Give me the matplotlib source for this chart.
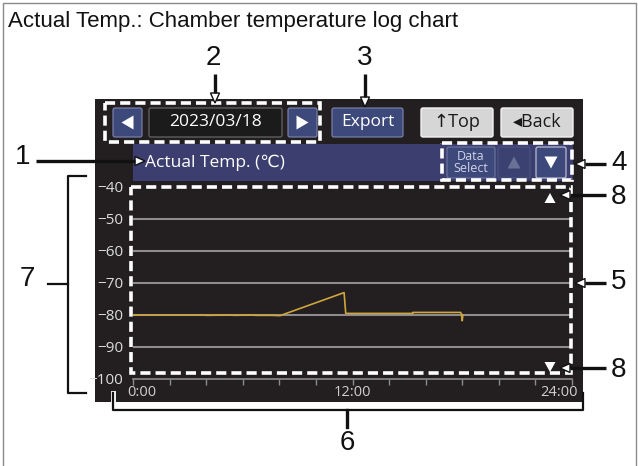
import matplotlib
matplotlib.use("Agg")
import matplotlib.pyplot as plt
from matplotlib.patches import Rectangle, FancyBboxPatch, Polygon

# data
hours = [0.0, 3.9, 4.0, 5.4, 5.5, 6.6, 6.7, 7.6, 8.04, 11.54, 11.63, 15.29, 15.3,
         17.91, 17.95, 18.0, 18.03]
temps = [-80.0, -80.0, -80.1, -80.0, -80.1, -80.0, -80.1, -80.1, -80.2, -73.0,
         -79.5, -79.5, -79.2, -79.2, -79.6, -81.8, -80.0]
y_ticks = [-40, -50, -60, -70, -80, -90, -100]
y_labels = ["\u221240", "\u221250", "\u221260", "\u221270", "\u221280", "\u221290", "\u2212100"]
grid_values = [-50, -60, -70, -80, -90]
x_labels = [(0, "0:00", "left", -6), (12, "12:00", "center", 0), (24, "24:00", "right", 6)]

W, H = 638, 466
PANEL = "#231f20"
BAR = "#3b3e6e"
BTN = "#3d487b"
UI = ["Open Sans", "DejaVu Sans"]
LBL = ["Liberation Sans", "DejaVu Sans"]

fig = plt.figure(figsize=(W / 100, H / 100), dpi=100)
fig.patch.set_facecolor("white")


def px_axes(z):
    a = fig.add_axes([0, 0, 1, 1], zorder=z)
    a.set_xlim(0, W)
    a.set_ylim(H, 0)
    a.axis("off")
    a.patch.set_alpha(0)
    return a


bg = px_axes(0)
fg = px_axes(3)


def box(a, x0, y0, x1, y1, fc, ec="none", lw=0.0, r=0):
    if r:
        p = FancyBboxPatch((x0, y0), x1 - x0, y1 - y0,
                           boxstyle=f"round,pad=0,rounding_size={r}",
                           fc=fc, ec=ec, lw=lw)
    else:
        p = Rectangle((x0, y0), x1 - x0, y1 - y0, fc=fc, ec=ec, lw=lw)
    a.add_patch(p)


def dashed(x0, y0, x1, y1):
    fg.add_patch(Rectangle((x0, y0), x1 - x0, y1 - y0, fill=False, ec="white",
                           lw=2.6, linestyle=(0, (2.8, 1.4)), joinstyle="miter"))


def tri(a, cx, cy, w, h, up, color):
    if up:
        pts = [(cx - w / 2, cy + h / 2), (cx + w / 2, cy + h / 2), (cx, cy - h / 2)]
    else:
        pts = [(cx - w / 2, cy - h / 2), (cx + w / 2, cy - h / 2), (cx, cy + h / 2)]
    a.add_patch(Polygon(pts, closed=True, fc=color, ec="none"))


def tri_lr(a, cx, cy, w, h, left, color):
    if left:
        pts = [(cx + w / 2, cy - h / 2), (cx + w / 2, cy + h / 2), (cx - w / 2, cy)]
    else:
        pts = [(cx - w / 2, cy - h / 2), (cx - w / 2, cy + h / 2), (cx + w / 2, cy)]
    a.add_patch(Polygon(pts, closed=True, fc=color, ec="none"))


def arrow(x0, y0, x1, y1, head=10, half=4.5):
    dx, dy = x1 - x0, y1 - y0
    n = (dx * dx + dy * dy) ** 0.5
    ux, uy = dx / n, dy / n
    bx, by = x1 - ux * head, y1 - uy * head
    fg.plot([x0, bx], [y0, by], color="#111111", lw=2.4, solid_capstyle="butt")
    pts = [(x1, y1), (bx - uy * half, by + ux * half), (bx + uy * half, by - ux * half)]
    fg.add_patch(Polygon(pts, closed=True, fc="white", ec="#111111", lw=1.0))


# outer frame and title
bg.add_patch(Rectangle((3, 3), 633, 480, fill=False, ec="#8a8a8a", lw=1.0))
bg.text(8, 22, "Actual Temp.: Chamber temperature log chart", fontsize=16,
        family=LBL, va="center", ha="left", color="#111111")

# screen panel
box(bg, 95, 99, 583, 402, PANEL)

# top button row
box(bg, 113, 108, 142, 137, BTN, "#8088b0", 0.8, 2)
tri_lr(bg, 127.5, 122.5, 12, 14, True, "white")
box(bg, 149, 108, 282, 137, "#1b1b1b", "#5e5e5e", 1.0, 2)
bg.text(215.5, 122.5, "2023/03/18", fontsize=12.5, family=UI, color="white",
        ha="center", va="center")
box(bg, 288, 108, 317, 137, BTN, "#8088b0", 0.8, 2)
tri_lr(bg, 302.5, 122.5, 12, 14, False, "white")
box(bg, 332, 108, 403, 137, BTN, "#8088b0", 0.8, 2)
bg.text(367.5, 122, "Export", fontsize=12.5, family=UI, color="white",
        ha="center", va="center")
box(bg, 421, 108, 493, 137, "#d6d6d6", "#f2f2f2", 1.0, 2)
bg.text(457, 122, "\u2191Top", fontsize=13, family=UI, color="#1a1a1a",
        ha="center", va="center")
box(bg, 501, 108, 573, 137, "#d6d6d6", "#f2f2f2", 1.0, 2)
bg.text(537, 122, "\u25c2Back", fontsize=13, family=UI, color="#1a1a1a",
        ha="center", va="center")

# header bar
box(bg, 133, 144, 573, 181, BAR)
bg.text(145, 163, "Actual Temp. (\u2103)", fontsize=12.5, family=UI, color="white",
        ha="left", va="center")
box(bg, 447, 147, 495, 178, BTN, "#6e76a0", 0.8, 2)
bg.text(471, 162.5, "Data\nSelect", fontsize=9, family=UI, color="#d0d4e8",
        ha="center", va="center", linespacing=0.9)
box(bg, 498, 147, 530, 178, "#3b4271", "#4c5482", 0.8, 2)
tri(bg, 514, 162.5, 13, 12, True, "#6a7196")
box(bg, 536, 147, 566, 178, BTN, "#b8bcd4", 0.9, 2)
tri(bg, 551, 162.5, 13, 12, False, "white")

# chart
left, right, top, bottom = 133, 572, 187, 379
ax = fig.add_axes([left / W, 1 - bottom / H, (right - left) / W, (bottom - top) / H],
                  zorder=2)
ax.patch.set_alpha(0)
ax.set_xlim(0, 24)
ax.set_ylim(-100, -40)
for g in grid_values:
    ax.axhline(g, color="#8c8c8c", lw=1.5, zorder=1)
ax.plot(hours, temps, color="#cfa63e", lw=1.2, zorder=3)
for s in ["top", "right", "left"]:
    ax.spines[s].set_visible(False)
ax.spines["bottom"].set_color("#8c8c8c")
ax.spines["bottom"].set_linewidth(1.2)
ax.set_xticks(range(0, 25, 2))
ax.set_xticklabels([])
ax.tick_params(axis="x", direction="out", length=4, width=1.0, color="#8c8c8c")
ax.set_yticks(y_ticks)
ax.set_yticklabels(y_labels, family=UI, fontsize=11, color="#dcdcdc")
ax.tick_params(axis="y", length=0, pad=7)
for xv, lab, ha, off in x_labels:
    ax.annotate(lab, (xv, 0), xycoords=("data", "axes fraction"),
                xytext=(off, -14), textcoords="offset pixels", ha=ha, va="center",
                fontsize=10.5, family=UI, color="#cfcfcf", annotation_clip=False)

# scroll markers
tri(fg, 550, 198, 11, 10, True, "white")
tri(fg, 550, 367, 11, 10, False, "white")

# dashed highlight boxes
dashed(105, 103, 320, 142)
dashed(442, 143, 572, 180)
dashed(131, 187, 571, 373)

# callouts
for txt, x, y in [("1", 23, 157), ("2", 213, 58), ("3", 365, 58), ("4", 619, 163),
                  ("8", 619, 197), ("5", 619, 282), ("8", 619, 370), ("7", 27, 279),
                  ("6", 347, 443)]:
    fg.text(x, y, txt, fontsize=20, family=LBL, color="#111111",
            ha="center", va="center")

arrow(36, 161, 145, 161)
arrow(215, 74, 215, 103)
arrow(365, 74, 365, 107)
arrow(606, 164, 575, 164)
arrow(606, 195, 560, 195)
arrow(606, 283, 575, 283)
arrow(606, 368, 560, 368)

# bracket 7
fg.plot([86, 68, 68, 86], [176, 176, 393, 393], color="#111111", lw=1.6)
fg.plot([48, 68], [284, 284], color="#111111", lw=1.6)
# bracket 6
fg.plot([113, 113], [393, 403], color="white", lw=3.5)
fg.plot([113, 113, 583, 583], [393, 410, 410, 393], color="#111111", lw=1.6)
fg.plot([347, 347], [410, 427], color="#111111", lw=2.4)

fig.savefig("out.png", dpi=100)
